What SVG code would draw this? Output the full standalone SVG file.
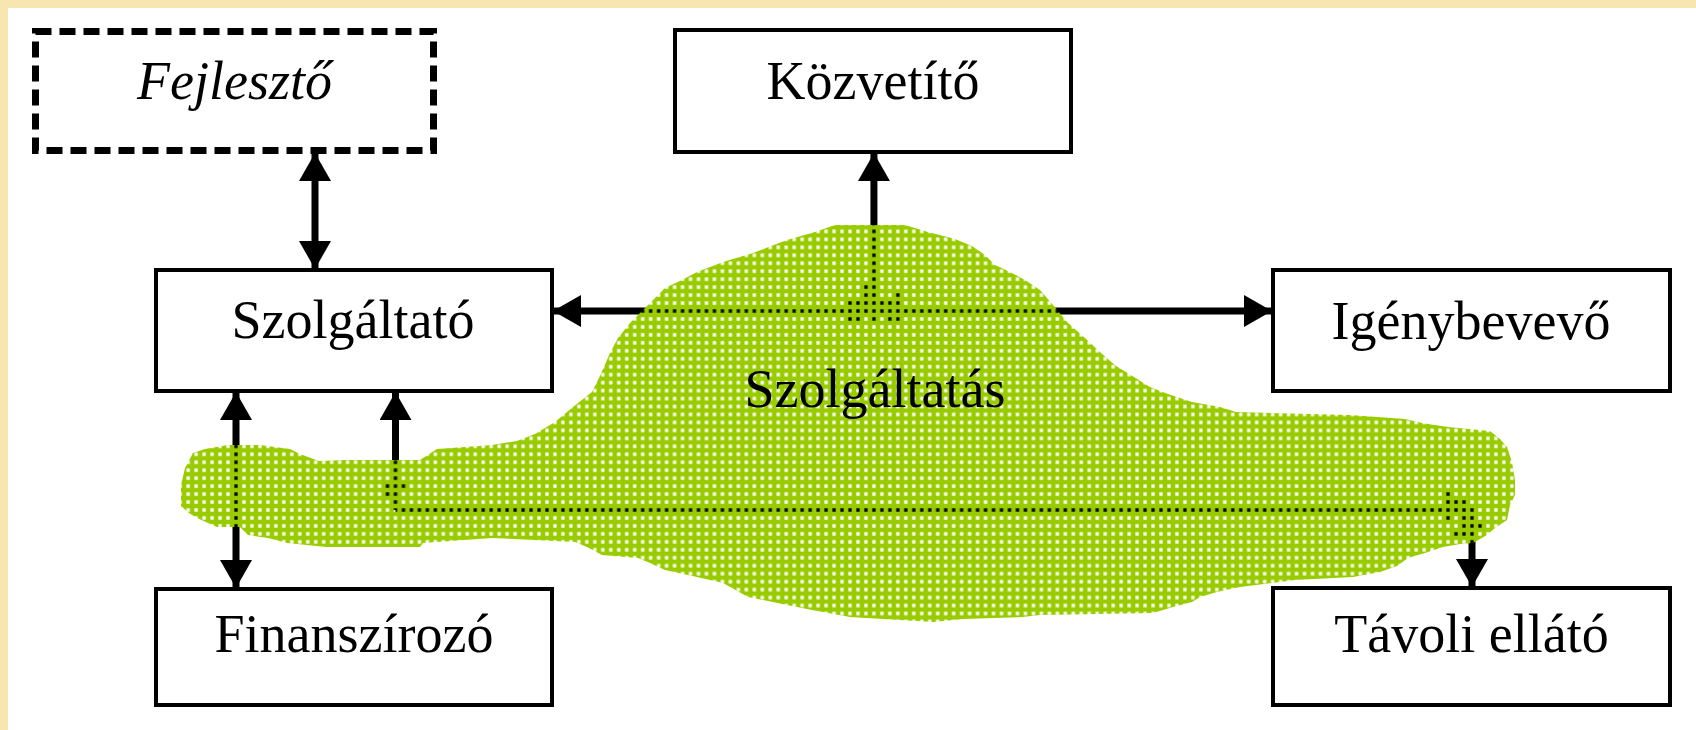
<svg xmlns="http://www.w3.org/2000/svg" width="1696" height="730" viewBox="0 0 1696 730">
<style>
.box{fill:#fff;stroke:#000;stroke-width:4}
.dash{fill:#fff;stroke:#000;stroke-width:7;stroke-dasharray:16 8}
.lbl{font-family:"Liberation Serif","Times New Roman",serif;font-size:54px;fill:#000;text-anchor:middle}
.conn{fill:none;stroke:#000;stroke-width:7}
.hd{fill:#000}
</style>
<defs>
<pattern id="mesh" patternUnits="userSpaceOnUse" x="232.013" y="307.02" width="7.9742" height="7.96">
<path d="M0,0H7.9742V7.96H0Z M2.3371,2.33H5.6371V5.63H2.3371Z" fill="#99CC00" fill-rule="evenodd"/>
</pattern>
<marker id="ah" viewBox="0 0 28 32" refX="27" refY="16" markerWidth="28" markerHeight="32" markerUnits="userSpaceOnUse" orient="auto-start-reverse">
<path d="M0,0L28,16L0,32Z" fill="#000"/>
</marker>
</defs>
<rect x="0" y="0" width="1696" height="730" fill="#fff"/>
<rect x="0" y="0" width="1696" height="8" fill="#F7E6B0"/>
<rect x="0" y="0" width="8" height="730" fill="#F7E6B0"/>

<g id="connectors">
<path class="conn" d="M315,154V268" marker-start="url(#ah)" marker-end="url(#ah)"/>
<path class="conn" d="M873.94,311V154" marker-end="url(#ah)"/>
<path class="conn" d="M554,311H1271" marker-start="url(#ah)" marker-end="url(#ah)"/>
<path class="conn" d="M236,393V587" marker-start="url(#ah)" marker-end="url(#ah)"/>
<path class="conn" d="M395.5,510V393" marker-end="url(#ah)"/>
<path class="conn" d="M395.5,510H1472V586" marker-end="url(#ah)"/>
<g id="hidden-marks">
<rect class="hd" x="863.46" y="284.62" width="5" height="5"/>
<rect class="hd" x="863.46" y="292.58" width="5" height="5"/>
<rect class="hd" x="895.36" y="292.58" width="5" height="5"/>
<rect class="hd" x="847.51" y="300.54" width="5" height="5"/>
<rect class="hd" x="855.49" y="300.54" width="5" height="5"/>
<rect class="hd" x="863.46" y="300.54" width="5" height="5"/>
<rect class="hd" x="879.41" y="300.54" width="5" height="5"/>
<rect class="hd" x="887.38" y="300.54" width="5" height="5"/>
<rect class="hd" x="895.36" y="300.54" width="5" height="5"/>
<rect class="hd" x="847.51" y="316.46" width="5" height="5"/>
<rect class="hd" x="855.49" y="316.46" width="5" height="5"/>
<rect class="hd" x="871.44" y="316.46" width="5" height="5"/>
<rect class="hd" x="887.38" y="316.46" width="5" height="5"/>
<rect class="hd" x="895.36" y="316.46" width="5" height="5"/>
<rect class="hd" x="385.01" y="483.62" width="5" height="5"/>
<rect class="hd" x="400.96" y="483.62" width="5" height="5"/>
<rect class="hd" x="385.01" y="491.58" width="5" height="5"/>
<rect class="hd" x="1445.58" y="491.58" width="5" height="5"/>
<rect class="hd" x="1445.58" y="499.54" width="5" height="5"/>
<rect class="hd" x="1453.55" y="499.54" width="5" height="5"/>
<rect class="hd" x="1461.53" y="499.54" width="5" height="5"/>
<rect class="hd" x="1445.58" y="515.46" width="5" height="5"/>
<rect class="hd" x="1461.53" y="515.46" width="5" height="5"/>
<rect class="hd" x="1461.53" y="523.42" width="5" height="5"/>
<rect class="hd" x="1477.48" y="523.42" width="5" height="5"/>
<rect class="hd" x="1453.55" y="531.38" width="5" height="5"/>
<rect class="hd" x="1461.53" y="531.38" width="5" height="5"/>
</g>
</g>

<g id="szolgaltatas">
<polygon fill="url(#mesh)" points="181,496 181,485 185,468 193,453 205,449 228,445 260,445 290,449 300,454 319,461 346,460 420,460 437,449 492,445 517,441 535,434 555,422 573,407 592,392 600,376 610,353 618,338 630,323 640,313 653,300 665,288 682,280 697,272 723,262 753,253 787,240 815,232 835,225 905,225 928,232 955,239 972,246 985,255 995,265 1010,272 1025,280 1040,290 1053,305 1067,322 1085,338 1101,353 1116,366 1134,377 1150,387 1168,394 1192,402 1220,407 1236,412 1350,415 1405,419 1422,423 1448,427 1490,431 1500,439 1507,447 1512,462 1515,480 1515,495 1510,505 1507,520 1495,528 1487,535 1473,543 1460,544 1443,547 1428,552 1408,558 1397,566 1380,572 1353,577 1295,580 1272,583 1240,587 1217,592 1200,597 1192,602 1173,607 1153,613 1040,615 1022,617 963,619 933,622 850,617 812,610 787,605 748,597 732,588 723,583 697,577 665,570 650,563 638,558 602,555 587,547 575,542 492,538 423,543 420,547 327,547 287,543 268,538 248,535 240,527 217,527 197,518 189,513 181,506"/>
<text class="lbl" x="875" y="407" fill="#222">Szolgáltatás</text>
</g>

<g id="fejleszto">
<rect class="dash" x="35.5" y="31.5" width="398" height="119"/>
<text class="lbl" x="234.5" y="99" font-style="italic">Fejlesztő</text>
</g>
<g id="kozvetito">
<rect class="box" x="675" y="30" width="396" height="122"/>
<text class="lbl" x="873" y="99">Közvetítő</text>
</g>
<g id="szolgaltato">
<rect class="box" x="156" y="270" width="396" height="121"/>
<text class="lbl" x="353" y="338">Szolgáltató</text>
</g>
<g id="igenybevevo">
<rect class="box" x="1273" y="270" width="397" height="121"/>
<text class="lbl" x="1471" y="339">Igénybevevő</text>
</g>
<g id="finanszirozo">
<rect class="box" x="156" y="589" width="396" height="116"/>
<text class="lbl" x="354" y="652">Finanszírozó</text>
</g>
<g id="tavoli">
<rect class="box" x="1273" y="588" width="397" height="117"/>
<text class="lbl" x="1471.5" y="652">Távoli ellátó</text>
</g>
</svg>
